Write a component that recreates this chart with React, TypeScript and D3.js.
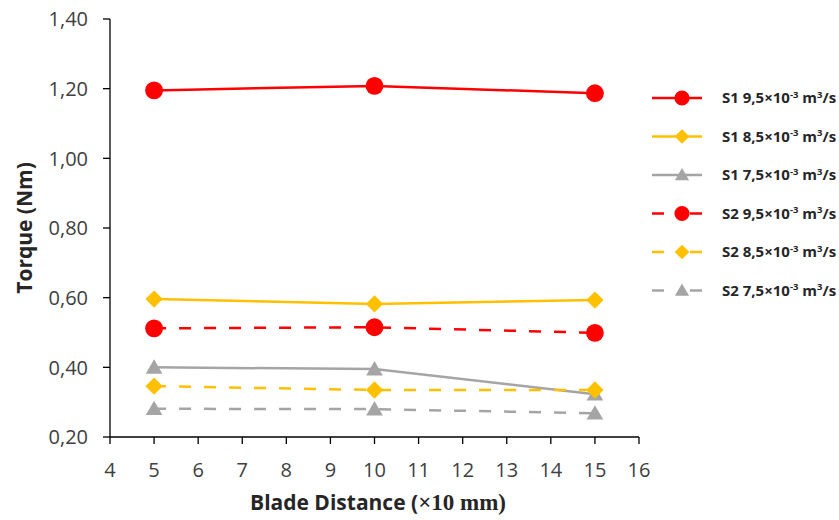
import React from 'react';
import * as d3 from 'd3';

// blade distance (x10 mm)
const distances = [5, 10, 15];

// torque (Nm)
const s1Flow95 = [1.195, 1.208, 1.187];
const s1Flow85 = [0.596, 0.582, 0.593];
const s1Flow75 = [0.4, 0.395, 0.323];
const s2Flow95 = [0.512, 0.515, 0.499];
const s2Flow85 = [0.346, 0.335, 0.335];
const s2Flow75 = [0.281, 0.28, 0.268];

const stages = ['S1', 'S1', 'S1', 'S2', 'S2', 'S2'];
const flows = ['9,5', '8,5', '7,5', '9,5', '8,5', '7,5'];

const xTickValues = [4, 5, 6, 7, 8, 9, 10, 11, 12, 13, 14, 15, 16];
const yTickValues = [0.2, 0.4, 0.6, 0.8, 1.0, 1.2, 1.4];

const RED = '#FF0000', YELLOW = '#FFC000', GRAY = '#A5A5A5';

const series = [
  { values: s1Flow95, color: RED, dashed: false, marker: 'circle' },
  { values: s1Flow85, color: YELLOW, dashed: false, marker: 'diamond' },
  { values: s1Flow75, color: GRAY, dashed: false, marker: 'triangle' },
  { values: s2Flow95, color: RED, dashed: true, marker: 'circle' },
  { values: s2Flow85, color: YELLOW, dashed: true, marker: 'diamond' },
  { values: s2Flow75, color: GRAY, dashed: true, marker: 'triangle' },
];

const font = '"Open Sans", "Noto Sans", sans-serif';
const serif = '"Liberation Serif", "DejaVu Serif", serif';

function Marker({ kind, x, y, color, k = 1 }: { kind: string; x: number; y: number; color: string; k?: number }) {
  if (kind === 'diamond') {
    const p = d3.symbol().type(d3.symbolSquare).size(150 * k * k)();
    return <path d={p || ''} fill={color} transform={`translate(${x},${y}) rotate(45)`} />;
  }
  if (kind === 'triangle') {
    const p = d3.symbol().type(d3.symbolTriangle).size(120 * k * k)();
    return <path d={p || ''} fill={color} transform={`translate(${x},${y + 1.5 * k})`} />;
  }
  const p = d3.symbol().type(d3.symbolCircle).size(250 * k * k)();
  return <path d={p || ''} fill={color} transform={`translate(${x},${y})`} />;
}

export default function App() {
  const left = 110, right = 639, top = 19, bottom = 437;

  const x = d3.scaleLinear().domain([4, 16]).range([left, right]);
  const y = d3.scaleLinear().domain([0.2, 1.4]).range([bottom, top]);

  const yFmt = (v: number) => d3.format('.2f')(v).replace('.', ',');

  const lineF = d3.line<number>()
    .x((_, i) => x(distances[i]))
    .y(d => y(d));

  const legendX0 = 652, legendX1 = 702, legendY0 = 98, legendStep = 38.5;

  return (
    <svg width={839} height={520} style={{ position: 'absolute', left: 0, top: 0, background: '#fff' }}>
      <rect width={839} height={520} fill="#fff" />

      {/* axes */}
      <line x1={left} x2={left} y1={top} y2={bottom} stroke="#000" strokeWidth={1.3} />
      <line x1={left} x2={right} y1={bottom} y2={bottom} stroke="#000" strokeWidth={1.3} />

      {yTickValues.map(v => (
        <g key={v} transform={`translate(${left},${y(v)})`}>
          <line x1={-7} x2={0} stroke="#000" strokeWidth={1.3} />
          <text x={-22} dy="0.36em" textAnchor="end" fontFamily={font} fontSize={20} fill="#404040">{yFmt(v)}</text>
        </g>
      ))}

      {xTickValues.map(v => (
        <g key={v} transform={`translate(${x(v)},${bottom})`}>
          <line y1={0} y2={7} stroke="#000" strokeWidth={1.3} />
          <text y={40} textAnchor="middle" fontFamily={font} fontSize={20} fill="#404040">{v}</text>
        </g>
      ))}

      {/* axis titles */}
      <text x={378} y={510} textAnchor="middle" fontWeight="bold" fill="#262626" style={{ fontFamily: font }}>
        <tspan style={{ fontFamily: font, fontSize: 21 }}>Blade Distance (</tspan>
        <tspan style={{ fontFamily: serif, fontSize: 23 }}>×10 mm)</tspan>
      </text>
      <text transform="translate(32,228) rotate(-90)" textAnchor="middle" fontFamily={font} fontSize={21} fontWeight="bold" fill="#262626">
        Torque (Nm)
      </text>

      {/* series */}
      {series.map((s, i) => (
        <g key={i}>
          <path d={lineF(s.values) || ''} fill="none" stroke={s.color} strokeWidth={2.5}
            strokeDasharray={s.dashed ? '12,13' : undefined} />
          {s.values.map((v, j) => (
            <Marker key={j} kind={s.marker} x={x(distances[j])} y={y(v)} color={s.color} />
          ))}
        </g>
      ))}

      {/* legend */}
      {series.map((s, i) => {
        const ly = legendY0 + i * legendStep;
        return (
          <g key={i}>
            <line x1={legendX0} x2={legendX1} y1={ly} y2={ly} stroke={s.color} strokeWidth={2.5}
              strokeDasharray={s.dashed ? '12,26' : undefined} />
            <Marker kind={s.marker} x={682} y={ly} color={s.color} k={0.85} />
            <text x={722} y={ly + 5} fontFamily={font} fontSize={15} fontWeight="bold" fill="#262626">
              {`${stages[i]} ${flows[i]}×10`}
              <tspan fontSize={9.5} dy={-5.5}>-3</tspan>
              <tspan dy={5.5}> m</tspan>
              <tspan fontSize={9.5} dy={-5.5}>3</tspan>
              <tspan dy={5.5}>/s</tspan>
            </text>
          </g>
        );
      })}
    </svg>
  );
}
